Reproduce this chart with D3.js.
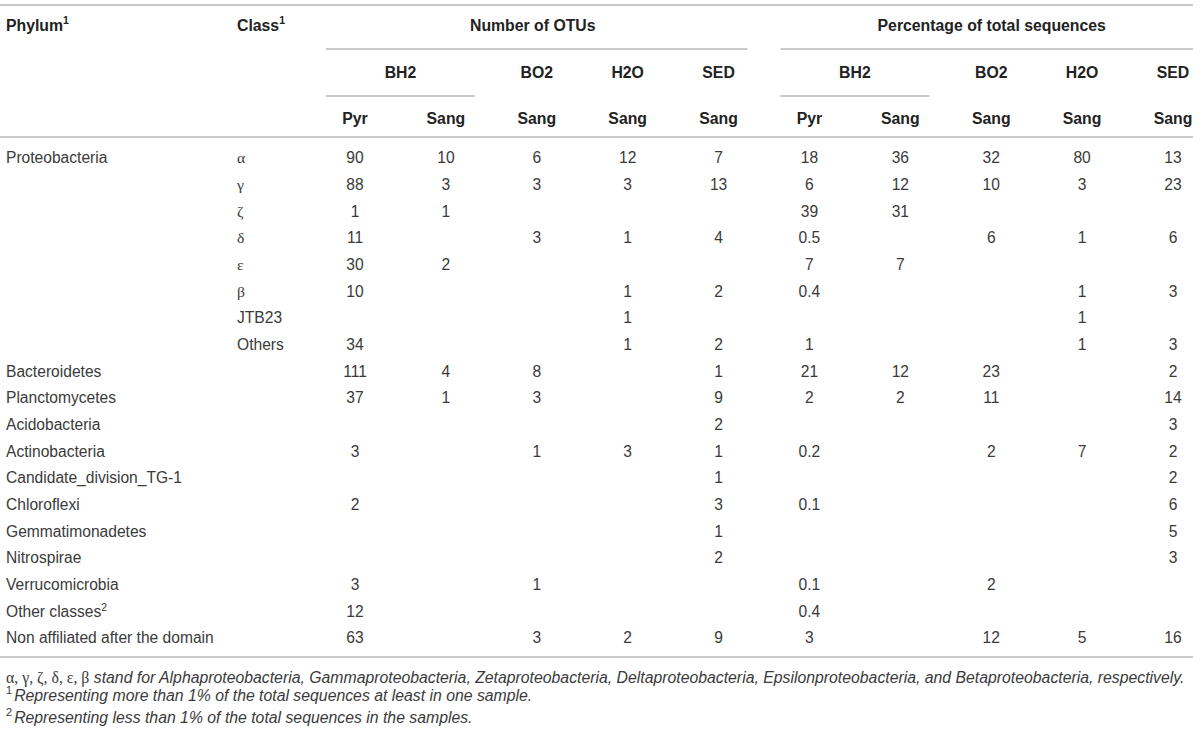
<!DOCTYPE html>
<html>
<head>
<meta charset="utf-8">
<script src="https://cdn.jsdelivr.net/npm/d3@7"></script>
<style>
  html, body { margin: 0; padding: 0; background: #fff; }
  svg { display: block; }
</style>
</head>
<body>
<svg id="otu-table" width="1200" height="731"></svg>
<script>
// Table data: one entry per body row
const phyla = ["Proteobacteria", "", "", "", "", "", "", "", "Bacteroidetes", "Planctomycetes",
  "Acidobacteria", "Actinobacteria", "Candidate_division_TG-1", "Chloroflexi", "Gemmatimonadetes",
  "Nitrospirae", "Verrucomicrobia", "Other classes", "Non affiliated after the domain"];
const phylumNotes = ["", "", "", "", "", "", "", "", "", "", "", "", "", "", "", "", "", "2", ""];
const classes = ["α", "γ", "ζ", "δ", "ε", "β", "JTB23", "Others", "", "", "", "", "", "", "", "", "", "", ""];

// Number of OTUs
const otuBH2Pyr  = [90, 88, 1, 11, 30, 10, null, 34, 111, 37, null, 3, null, 2, null, null, 3, 12, 63];
const otuBH2Sang = [10, 3, 1, null, 2, null, null, null, 4, 1, null, null, null, null, null, null, null, null, null];
const otuBO2Sang = [6, 3, null, 3, null, null, null, null, 8, 3, null, 1, null, null, null, null, 1, null, 3];
const otuH2OSang = [12, 3, null, 1, null, 1, 1, 1, null, null, null, 3, null, null, null, null, null, null, 2];
const otuSEDSang = [7, 13, null, 4, null, 2, null, 2, 1, 9, 2, 1, 1, 3, 1, 2, null, null, 9];

// Percentage of total sequences
const pctBH2Pyr  = [18, 6, 39, 0.5, 7, 0.4, null, 1, 21, 2, null, 0.2, null, 0.1, null, null, 0.1, 0.4, 3];
const pctBH2Sang = [36, 12, 31, null, 7, null, null, null, 12, 2, null, null, null, null, null, null, null, null, null];
const pctBO2Sang = [32, 10, null, 6, null, null, null, null, 23, 11, null, 2, null, null, null, null, 2, null, 12];
const pctH2OSang = [80, 3, null, 1, null, 1, 1, 1, null, null, null, 7, null, null, null, null, null, null, 5];
const pctSEDSang = [13, 23, null, 6, null, 3, null, 3, 2, 14, 3, 2, 2, 6, 5, 3, null, null, 16];

// Header labels
const groupLabels = ["Number of OTUs", "Percentage of total sequences"];
const sampleLabels = ["BH2", "BO2", "H2O", "SED"];
const methodLabels = ["Pyr", "Sang", "Sang", "Sang", "Sang"];

const footnotes = [
  {greek: "α, γ, ζ, δ, ε, β", sup: "", text: " stand for Alphaproteobacteria, Gammaproteobacteria, Zetaproteobacteria, Deltaproteobacteria, Epsilonproteobacteria, and Betaproteobacteria, respectively."},
  {greek: "", sup: "1", text: "Representing more than 1% of the total sequences at least in one sample."},
  {greek: "", sup: "2", text: "Representing less than 1% of the total sequences in the samples."}
];

// Layout globals
const tableRight = 1193;
const font = "'Liberation Sans', Arial, Helvetica, sans-serif";
const serif = "'Liberation Serif', 'DejaVu Serif', serif";
const textColor = "#3a3a3a";
const ruleColor = "#c9c9c9";

const svg = d3.select('#otu-table');

const columns = [otuBH2Pyr, otuBH2Sang, otuBO2Sang, otuH2OSang, otuSEDSang,
                 pctBH2Pyr, pctBH2Sang, pctBO2Sang, pctH2OSang, pctSEDSang];

// Column centres and row positions come from point scales
const x = d3.scalePoint()
  .domain(d3.range(columns.length))
  .range([355, 1173]);
const y = d3.scalePoint()
  .domain(d3.range(phyla.length))
  .range([158, 638]);
const pad = 29;

// Horizontal rules
function rule(x1, x2, yy) {
  svg.append('line')
    .attr('x1', x1).attr('x2', x2)
    .attr('y1', yy).attr('y2', yy)
    .attr('stroke', ruleColor)
    .attr('stroke-width', 2);
}

function headText(xx, yy, label, anchor, sup) {
  const t = svg.append('text')
    .attr('x', xx).attr('y', yy)
    .attr('dy', '0.35em')
    .attr('text-anchor', anchor)
    .attr('font-family', font)
    .attr('font-size', 15.8)
    .attr('font-weight', 'bold')
    .attr('fill', '#222')
    .text(label);
  if (sup) {
    t.append('tspan').attr('font-size', 10.5).attr('dy', '-0.6em').text(sup);
  }
}

// Table frame
rule(0, tableRight, 5);
rule(0, tableRight, 137);
rule(0, tableRight, 657);

// Header row 1
headText(6, 25, "Phylum", 'start', "1");
headText(237, 25, "Class", 'start', "1");
groupLabels.forEach((g, i) => {
  const x1 = x(i * 5) - pad;
  const x2 = i === groupLabels.length - 1 ? tableRight : x(i * 5 + 4) + pad;
  headText((x1 + x2) / 2 + (i === 1 ? 5 : -4), 25, g, 'middle');
  rule(x1, x2, 49);

  // Header row 2: BH2 spans two columns, the others one
  headText((x(i * 5) + x(i * 5 + 1)) / 2, 72, sampleLabels[0], 'middle');
  rule(x(i * 5) - pad, x(i * 5 + 1) + pad, 96);
  sampleLabels.slice(1).forEach((s, j) => headText(x(i * 5 + 2 + j), 72, s, 'middle'));

  // Header row 3
  methodLabels.forEach((m, j) => headText(x(i * 5 + j), 118, m, 'middle'));
});

// Body: phylum and class labels
const body = svg.append('g').attr('font-family', font).attr('font-size', 15.6).attr('fill', textColor);

body.selectAll('text.phylum').data(phyla)
  .enter().append('text')
  .attr('class', 'phylum')
  .attr('x', 6)
  .attr('y', (d, i) => y(i))
  .attr('dy', '0.35em')
  .text(d => d)
  .each(function(d, i) {
    if (phylumNotes[i]) {
      d3.select(this).append('tspan').attr('font-size', 10.5).attr('dy', '-0.55em').text(phylumNotes[i]);
    }
  });

body.selectAll('text.class').data(classes)
  .enter().append('text')
  .attr('class', 'class')
  .attr('x', 237)
  .attr('y', (d, i) => y(i))
  .attr('dy', '0.35em')
  .attr('font-family', d => /^[α-ω]$/.test(d) ? serif : font)
  .text(d => d);

// Body: value cells
columns.forEach((col, c) => {
  body.selectAll('text.col' + c).data(col)
    .enter().append('text')
    .attr('class', 'col' + c)
    .attr('x', x(c))
    .attr('y', (d, i) => y(i))
    .attr('dy', '0.35em')
    .attr('text-anchor', 'middle')
    .text(d => d === null ? '' : d);
});

// Footnotes
const notes = svg.append('g').attr('font-family', font).attr('font-size', 15.8).attr('fill', textColor);
footnotes.forEach((f, i) => {
  const t = notes.append('text')
    .attr('x', 6)
    .attr('y', 677 + i * 22)
    .attr('dy', '0.35em');
  if (f.greek) t.append('tspan').attr('font-family', serif).text(f.greek);
  if (f.sup) t.append('tspan').attr('font-size', 11).attr('dy', '-0.5em').text(f.sup);
  t.append('tspan').attr('font-style', 'italic')
    .attr('dx', f.sup ? 2 : null)
    .attr('dy', f.sup ? '0.5em' : null)
    .text(f.text);
});
</script>
</body>
</html>
